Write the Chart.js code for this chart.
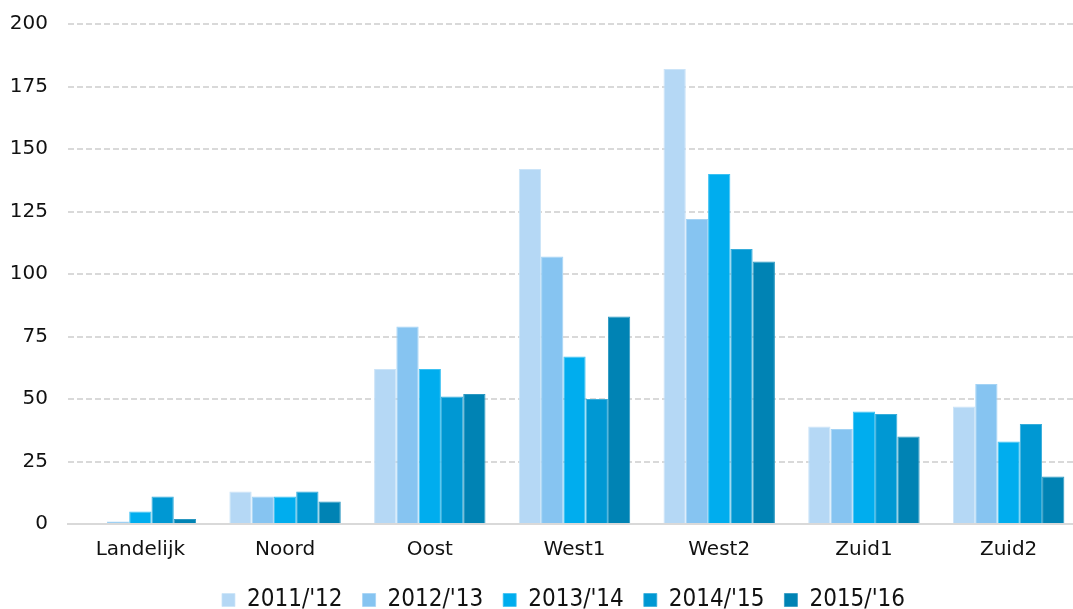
<!DOCTYPE html>
<html>
<head>
<meta charset="utf-8">
<script src="https://cdn.jsdelivr.net/npm/chart.js@4/dist/chart.umd.min.js"></script>
<style>
  html, body { margin: 0; padding: 0; background: #ffffff; }
  .chart-container { width: 1073px; height: 609px; }
</style>
</head>
<body>
<div class="chart-container">
  <canvas id="chartCanvas" width="1073" height="609"></canvas>
</div>
<script>
  const categories = ['Landelijk', 'Noord', 'Oost', 'West1', 'West2', 'Zuid1', 'Zuid2'];
  const seriesLabels = ["2011/'12", "2012/'13", "2013/'14", "2014/'15", "2015/'16"];
  const season1112 = [0, 13, 62, 142, 182, 39, 47];
  const season1213 = [1, 11, 79, 107, 122, 38, 56];
  const season1314 = [5, 11, 62, 67, 140, 45, 33];
  const season1415 = [11, 13, 51, 50, 110, 44, 40];
  const season1516 = [2, 9, 52, 83, 105, 35, 19];
  const yTicks = [0, 25, 50, 75, 100, 125, 150, 175, 200];

  const palette = ['#b5d8f5', '#86c4f1', '#00adee', '#0098d3', '#0083b4'];
  const edges = ['#cbe4f8', '#a3d3f5', '#3cc1f2', '#36addb', '#2b98c1'];
  const seriesValues = [season1112, season1213, season1314, season1415, season1516];

  const datasets = seriesLabels.map((label, i) => ({
    label: label,
    data: seriesValues[i],
    backgroundColor: palette[i],
    borderColor: edges[i],
    borderWidth: { top: 1, left: 1, right: 1, bottom: 0 },
    barPercentage: 1,
    categoryPercentage: 0.77
  }));

  const textColor = '#111111';
  const gridColor = '#d9d9d9';

  // In the original the category band runs a few px past the right edge,
  // and the legend sits a little right of centre. Adjust both after layout.
  const layoutTweaks = {
    id: 'layoutTweaks',
    afterLayout(chart) {
      const x = chart.scales.x;
      x.right += 8;
      x.width += 8;
      x.configure();
      chart.chartArea.right += 8;
      chart.chartArea.width += 8;
      if (chart.legend) {
        chart.legend.left += 27;
        chart.legend.right += 27;
      }
    }
  };

  new Chart(document.getElementById('chartCanvas').getContext('2d'), {
    type: 'bar',
    data: { labels: categories, datasets: datasets },
    plugins: [layoutTweaks],
    options: {
      responsive: false,
      animation: false,
      maintainAspectRatio: false,
      layout: { padding: { top: 24, right: 0, left: 0, bottom: -13 } },
      plugins: {
        legend: {
          position: 'bottom',
          labels: {
            color: textColor,
            boxWidth: 13,
            boxHeight: 13,
            padding: 20,
            font: { family: 'DejaVu Sans Condensed', size: 24 }
          }
        },
        title: { display: false },
        tooltip: { enabled: false }
      },
      scales: {
        x: {
          grid: { display: false, drawTicks: false },
          border: { display: true, color: gridColor, width: 2 },
          afterFit: (axis) => { axis.height = 44; },
          ticks: {
            color: textColor,
            padding: 14,
            font: { family: 'DejaVu Sans', size: 20 }
          }
        },
        y: {
          min: 0,
          max: 200,
          afterBuildTicks: (axis) => { axis.ticks = yTicks.map(v => ({ value: v })); },
          afterFit: (axis) => { axis.width = 68; axis.paddingTop = 0; },
          grid: { color: gridColor, lineWidth: 2, drawTicks: false },
          border: { display: false, dash: [6, 3] },
          ticks: {
            color: textColor,
            padding: 20,
            font: { family: 'DejaVu Sans', size: 20 }
          }
        }
      }
    }
  });
</script>
</body>
</html>
